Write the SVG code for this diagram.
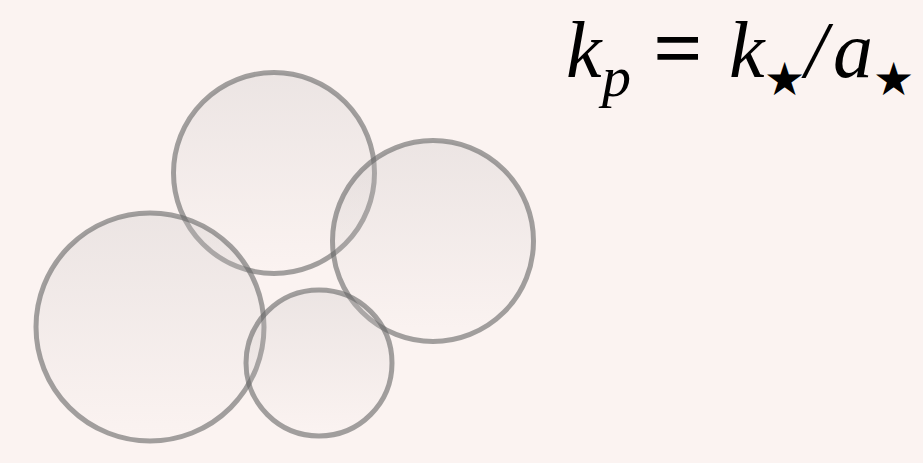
<svg xmlns="http://www.w3.org/2000/svg" width="923" height="463" viewBox="0 0 923 463">
<defs>
<linearGradient id="g" x1="0" y1="0" x2="0" y2="1">
<stop offset="0" stop-color="#c8c3c3" stop-opacity="0.3"/>
<stop offset="1" stop-color="#c8c3c3" stop-opacity="0"/>
</linearGradient>
<style>
.c{fill:url(#g);stroke:#666;stroke-opacity:0.6;stroke-width:5}
.t{font-family:"Liberation Serif","Times New Roman",serif;fill:#000}
.i{font-style:italic}
.s{font-family:"DejaVu Sans",sans-serif;font-size:46px}
</style>
</defs>
<rect width="923" height="463" fill="#fbf3f1"/>
<g id="nodes">
<g id="circle-top"><circle class="c" cx="274" cy="173" r="100.5"/></g>
<g id="circle-right"><circle class="c" cx="433" cy="241" r="100.5"/></g>
<g id="circle-left"><circle class="c" cx="150" cy="327" r="114"/></g>
<g id="circle-small"><circle class="c" cx="319" cy="363" r="73"/></g>
</g>
<g id="formula" class="t">
<text x="566" y="77" font-size="80" class="i">k</text>
<text x="602" y="96" font-size="58" class="i">p</text>
<text x="654" y="77" font-size="84" stroke="#000" stroke-width="1.5">=</text>
<text x="729" y="77" font-size="80" class="i">k</text>
<text x="764" y="95" class="s">★</text>
<text x="805" y="77" font-size="80" class="i">/</text>
<text x="833" y="77" font-size="80" class="i">a</text>
<text x="873" y="95" class="s">★</text>
</g>
</svg>
